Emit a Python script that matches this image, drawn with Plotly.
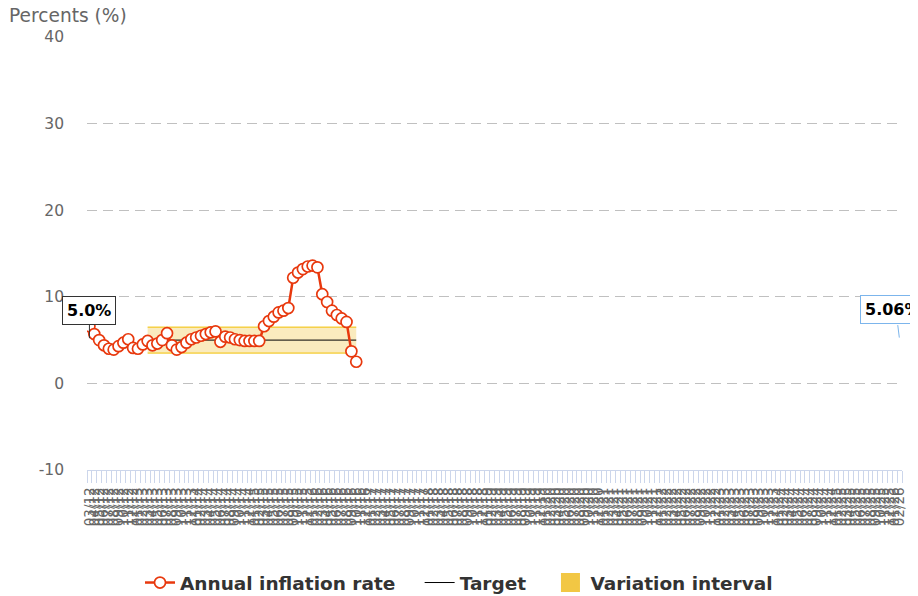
import plotly.graph_objects as go
import pandas as pd

# ---- data ----
months = list(pd.date_range("2012-03-01", periods=168, freq="MS").strftime("%m/%y"))
inflation = [6.6, 5.7, 5.0, 4.4, 4.0, 3.9, 4.3, 4.7, 5.1, 4.1, 4.0, 4.5,
             4.9, 4.4, 4.6, 5.0, 5.8, 4.4, 3.9, 4.2, 4.7, 5.1, 5.3, 5.5,
             5.7, 5.9, 6.0, 4.8, 5.4, 5.3, 5.1, 5.0, 4.9, 4.9, 4.9, 4.9,
             6.6, 7.2, 7.7, 8.2, 8.4, 8.7, 12.2, 12.8, 13.2, 13.5, 13.6, 13.4,
             10.3, 9.4, 8.4, 7.9, 7.5, 7.1, 3.7, 2.5]
target_start = "03/13"
target_value = 5.0
band_low = 3.5
band_high = 6.5
label_left_value = 5.0
label_right_value = 5.06
y_ticks = [-10, 0, 10, 20, 30, 40]
y_tick_text = ["-10", "0", "10", "20", "30", "40"]

x_all = list(range(len(months)))
x_inf = x_all[:len(inflation)]
i0 = months.index(target_start)
x_tgt = x_all[i0:len(inflation)]

RED = "#e8380d"
FONT = "DejaVu Sans"

fig = go.Figure()

# variation interval (band)
fig.add_trace(go.Scatter(x=x_tgt, y=[band_low] * len(x_tgt), mode="lines",
                         line=dict(color="#f2c000", width=1), showlegend=False,
                         hoverinfo="skip"))
fig.add_trace(go.Scatter(x=x_tgt, y=[band_high] * len(x_tgt), mode="lines",
                         line=dict(color="#f2c000", width=1), fill="tonexty",
                         fillcolor="rgba(242,199,68,0.35)", showlegend=False,
                         hoverinfo="skip"))
# target
fig.add_trace(go.Scatter(x=x_tgt, y=[target_value] * len(x_tgt), mode="lines",
                         line=dict(color="#000000", width=1),
                         name="Target\u00a0\u00a0\u00a0", legendrank=2))
# legend swatch for band
fig.add_trace(go.Scatter(x=[None], y=[None], mode="markers",
                         marker=dict(symbol="square", size=16, color="#f2c744",
                                     line=dict(color="#f2c744", width=3)),
                         name="Variation interval", legendrank=3))
# inflation
fig.add_trace(go.Scatter(x=x_inf, y=inflation, mode="lines+markers",
                         line=dict(color=RED, width=2.5),
                         marker=dict(symbol="circle", size=11, color="white",
                                     line=dict(color=RED, width=1.7)),
                         name="Annual inflation rate\u00a0\u00a0\u00a0", legendrank=1))

# data labels
fig.add_annotation(x=x_all[0], y=label_left_value, text="<b>5.0%</b>",
                   showarrow=True, arrowhead=0, arrowwidth=1, arrowcolor="#333333",
                   ax=0, ay=-30, standoff=2,
                   bgcolor="white", bordercolor="#333333", borderwidth=1, borderpad=4,
                   font=dict(family=FONT, size=16, color="#000000"))
fig.add_annotation(x=x_all[-1], y=label_right_value, text="<b>5.06%</b>",
                   showarrow=False, xshift=-7, yshift=30,
                   bgcolor="white", bordercolor="#7cb5ec", borderwidth=1, borderpad=4,
                   font=dict(family=FONT, size=16, color="#000000"))
fig.add_annotation(x=x_all[-1], y=label_right_value, text="",
                   showarrow=True, arrowhead=0, arrowwidth=1, arrowcolor="#7cb5ec",
                   ax=-2, ay=-16, standoff=2)

# axis title
fig.add_annotation(xref="paper", yref="paper", x=-0.0985, y=1.049,
                   xanchor="left", yanchor="middle", showarrow=False,
                   text="Percents (%)", font=dict(family=FONT, size=18.6, color="#666666"))

# the page body has an 8px margin: size the figure so it fills the window
W, H, OFF = 918, 596, 8
fig.update_layout(
    width=W - OFF, height=H - OFF,
    margin=dict(l=87 - OFF, r=16, t=37 - OFF, b=126, autoexpand=False),
    paper_bgcolor="white", plot_bgcolor="white",
    font=dict(family=FONT, color="#666666"),
    legend=dict(orientation="h", xref="container", yref="container",
                x=(459 - OFF) / (W - OFF), xanchor="center",
                y=(H - 583) / (H - OFF), yanchor="middle",
                font=dict(family=FONT, size=18.5, color="#333333", weight="bold"),
                itemwidth=30, traceorder="normal"),
    xaxis=dict(range=[-0.5, len(months) - 0.5], tickmode="array",
               tickvals=x_all, ticktext=months, tickangle=-90,
               ticks="", ticklabelstandoff=11, automargin=False,
               tickfont=dict(family=FONT, size=13.5, color="#666666"),
               showgrid=False, zeroline=False, showline=True,
               linecolor="#ccd6eb", linewidth=1,
               minor=dict(ticks="outside", tickmode="linear", tick0=-0.5, dtick=1,
                          ticklen=12, tickcolor="#ccd6eb", tickwidth=1, showgrid=False)),
    yaxis=dict(range=[-10, 40], tickmode="array", tickvals=y_ticks, ticktext=y_tick_text,
               ticks="", ticklabelstandoff=22, automargin=False,
               tickfont=dict(family=FONT, size=15.5, color="#666666"),
               showgrid=True, gridcolor="#c0c0c0", gridwidth=1, griddash="10px,6px",
               zeroline=False, showline=False),
    hovermode=False,
)

fig.write_html("out.html")
